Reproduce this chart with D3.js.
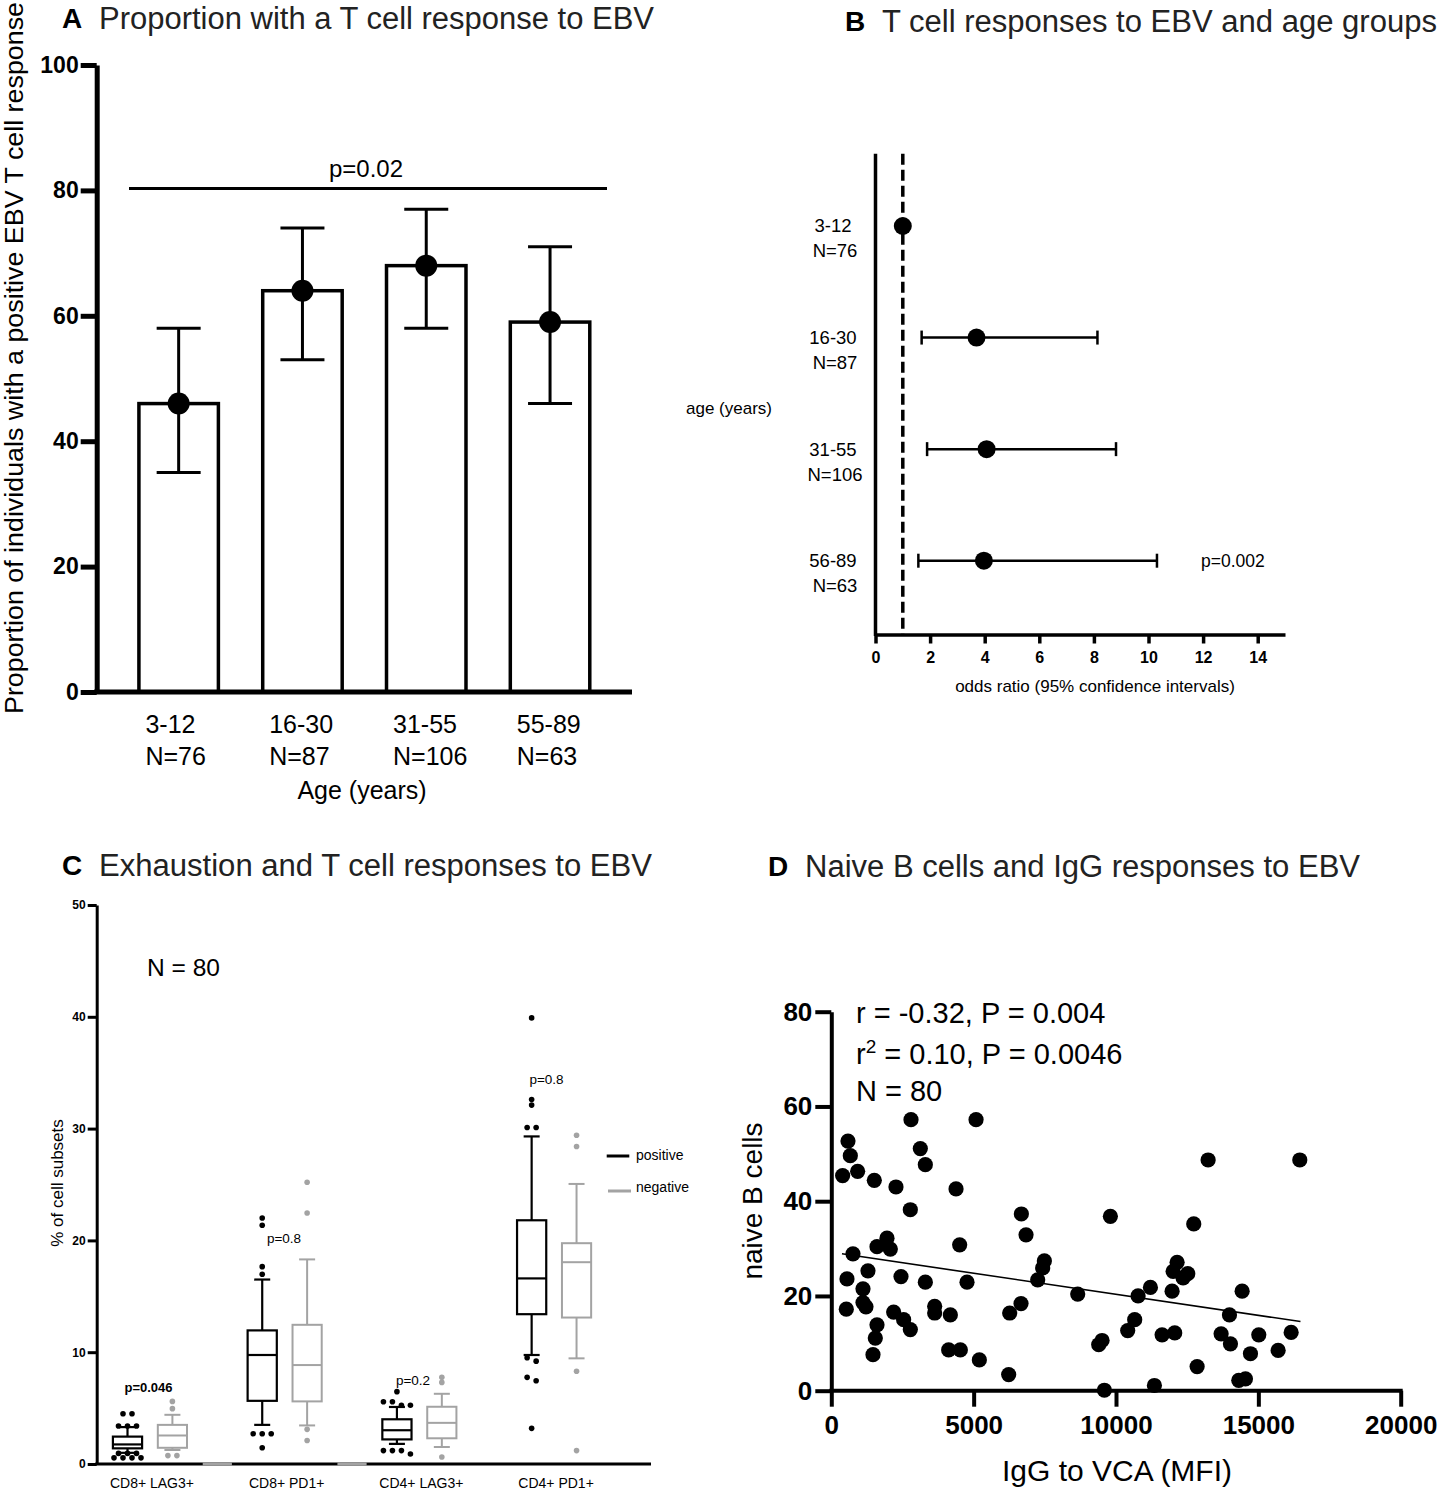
<!DOCTYPE html>
<html>
<head>
<meta charset="utf-8">
<script src="https://cdn.jsdelivr.net/npm/d3@7"></script>
<style>
  body { margin: 0; background: #fff; }
  text { font-family: "Liberation Sans", Arial, Helvetica, sans-serif; }
</style>
</head>
<body>
<div id="chart-area"></div>
<script>
// ---- Panel A data: proportion with a T cell response
const ageGroups = ["3-12", "16-30", "31-55", "55-89"]
const ageN = ["N=76", "N=87", "N=106", "N=63"]
const propValues = [46, 64, 68, 59]
const propLow = [35, 53, 58, 46]
const propHigh = [58, 74, 77, 71]
const propTicks = [0, 20, 40, 60, 80, 100]

// ---- Panel B data: odds ratios
const orGroups = ["3-12", "16-30", "31-55", "56-89"]
const orN = ["N=76", "N=87", "N=106", "N=63"]
const orValues = [1, 3.7, 4.07, 3.97]
const orLow = [null, 1.69, 1.89, 1.57]
const orHigh = [null, 8.13, 8.81, 10.31]
const orTicks = [0, 2, 4, 6, 8, 10, 12, 14]

// ---- Panel C data: box plots of exhaustion markers
const cellSubsets = ["CD8+ LAG3+", "CD8+ PD1+", "CD4+ LAG3+", "CD4+ PD1+"]
const subsetP = ["p=0.046", "p=0.8", "p=0.2", "p=0.8"]
const posLow = [1.0, 3.5, 1.8, 9.75]
const posQ1 = [1.4, 5.65, 2.2, 13.4]
const posMed = [1.75, 9.75, 3.02, 16.6]
const posQ3 = [2.45, 11.95, 4.0, 21.8]
const posHigh = [3.3, 16.5, 5.1, 29.3]
const posOutliers = [
  [4.5, 4.5, 3.4, 3.4, 3.4, 0.95, 0.95, 0.95, 0.55, 0.55, 0.55, 0.55],
  [22.0, 21.35, 17.65, 16.97, 2.7, 2.7, 2.7, 1.45],
  [6.47, 5.57, 5.57, 5.25, 5.25, 1.2, 1.2, 1.2, 0.9],
  [39.9, 32.6, 32.1, 30.1, 30.1, 9.5, 9.2, 7.75, 7.45, 3.19]
]
const negLow = [1.25, 3.45, 1.52, 9.45]
const negQ1 = [1.45, 5.6, 2.3, 13.1]
const negMed = [2.55, 8.85, 3.68, 18.05]
const negQ3 = [3.5, 12.45, 5.12, 19.75]
const negHigh = [4.4, 18.3, 6.28, 25.05]
const negOutliers = [
  [5.6, 4.95, 0.75, 0.75],
  [25.2, 22.45, 3.1, 2.1],
  [7.75, 7.3, 0.62],
  [29.4, 28.4, 8.3, 1.2]
]
const emptySlots = [2, 5]
const cellTicks = [0, 10, 20, 30, 40, 50]

// ---- Panel D data: IgG to VCA vs naive B cells
const iggVca = [398, 586, 668, 925, 1511, 2272, 2799, 3127, 3303, 2776, 5084, 4381, 6676, 6840,
  761, 1605, 1956, 2073, 4509, 7484, 7425, 7250, 551, 1288, 2448, 3303, 4767, 1113, 8655,
  527, 1113, 1218, 2190, 2541, 2776, 3631, 3631, 4181, 6266, 6664, 1605, 1546, 1464, 4122,
  4532, 5200, 6230,
  13236, 16456, 9803, 12731, 12146, 12006, 12520, 12357, 11970, 11209, 10776, 14430, 13985,
  10657, 10411, 9511, 9393, 11619, 12063, 13692, 14020, 15015, 16152, 14723, 15695, 12849,
  14312, 14547, 9592, 11349]
const naiveB = [45.4, 52.7, 49.6, 46.3, 44.4, 43.0, 57.2, 51.1, 47.7, 38.2, 57.2, 42.6, 37.3, 32.9,
  28.9, 30.4, 32.2, 29.9, 30.8, 27.4, 25.9, 23.4, 23.6, 25.3, 24.1, 22.9, 22.9, 21.5, 20.4,
  17.2, 18.6, 17.7, 16.6, 15.0, 12.9, 17.8, 16.4, 16.0, 16.4, 18.4, 13.9, 11.1, 7.6, 8.6,
  8.6, 6.5, 3.4,
  48.7, 48.7, 36.8, 35.2, 27.1, 25.2, 24.7, 23.8, 21.0, 21.8, 20.0, 21.0, 16.0,
  15.0, 12.7, 10.6, 9.7, 11.8, 12.2, 12.0, 9.9, 11.8, 12.3, 7.8, 8.5, 5.1,
  2.2, 2.5, 0.1, 1.1]
const fitX = [375, 16479]
const fitY = [28.9, 14.6]
const iggTicks = [0, 5000, 10000, 15000, 20000]
const naiveTicks = [0, 20, 40, 60, 80]

const GRAY = "#a3a3a3"

const svg = d3.select("#chart-area").append("svg")
  .attr("width", 1441)
  .attr("height", 1506)
  .attr("viewBox", [0, 0, 1441, 1506])
  .style("background", "#fff")

function txt(g, s, x, y, o = {}) {
  const t = g.append("text")
    .attr("x", x).attr("y", y).attr("dy", "0.35em")
    .attr("font-size", o.size || 16)
    .attr("font-weight", o.bold ? "bold" : "normal")
    .attr("text-anchor", o.anchor || "start")
    .attr("fill", o.fill || "#000")
    .text(s)
  if (o.len) t.attr("textLength", o.len).attr("lengthAdjust", "spacingAndGlyphs")
  if (o.rotate) t.attr("transform", `rotate(-90,${x},${y})`)
  return t
}

function styleAxis(g, w, fs) {
  g.attr("font-family", null)
  g.select(".domain").attr("stroke-width", w)
  g.selectAll(".tick line").attr("stroke-width", w)
  g.selectAll(".tick text").attr("font-size", fs).attr("font-weight", "bold").attr("fill", "#000")
}

function title(letter, s, x, y, len) {
  txt(svg, letter, x, y, { size: 28, bold: true })
  txt(svg, s, x + 37, y, { size: 31, len: len, fill: "#222" })
}

// ================= Panel A =================
title("A", "Proportion with a T cell response to EBV", 62, 18, 555)

const xA = d3.scaleBand().domain(ageGroups).range([96.7, 632]).paddingInner(0.358).paddingOuter(0.341)
const yA = d3.scaleLinear().domain([0, 100]).range([692, 65])

const gA = svg.append("g")
gA.selectAll(".barA").data(propValues).join("rect")
  .attr("class", "barA")
  .attr("x", (d, i) => xA(ageGroups[i]))
  .attr("y", d => yA(d))
  .attr("width", xA.bandwidth())
  .attr("height", d => yA(0) - yA(d))
  .attr("fill", "#fff").attr("stroke", "#000").attr("stroke-width", 3.5)

const cxA = i => xA(ageGroups[i]) + xA.bandwidth() / 2
gA.selectAll(".errA").data(propValues).join("line")
  .attr("class", "errA")
  .attr("x1", (d, i) => cxA(i)).attr("x2", (d, i) => cxA(i))
  .attr("y1", (d, i) => yA(propLow[i])).attr("y2", (d, i) => yA(propHigh[i]))
  .attr("stroke", "#000").attr("stroke-width", 3)
const caps = propLow.map((v, i) => ({ i, v })).concat(propHigh.map((v, i) => ({ i, v })))
gA.selectAll(".capA").data(caps).join("line")
  .attr("class", "capA")
  .attr("x1", d => cxA(d.i) - 22).attr("x2", d => cxA(d.i) + 22)
  .attr("y1", d => yA(d.v)).attr("y2", d => yA(d.v))
  .attr("stroke", "#000").attr("stroke-width", 3)
gA.selectAll(".dotA").data(propValues).join("circle")
  .attr("class", "dotA")
  .attr("cx", (d, i) => cxA(i)).attr("cy", d => yA(d)).attr("r", 11)

const axA = svg.append("g").attr("transform", "translate(96.7,0)")
  .call(d3.axisLeft(yA).tickValues(propTicks).tickSize(16).tickPadding(2).tickSizeOuter(0))
styleAxis(axA, 5, 23)
svg.append("line").attr("x1", 94.2).attr("x2", 632).attr("y1", yA(0)).attr("y2", yA(0))
  .attr("stroke", "#000").attr("stroke-width", 5)

// significance bar
svg.append("line").attr("x1", 129).attr("x2", 607).attr("y1", yA(80.3)).attr("y2", yA(80.3))
  .attr("stroke", "#000").attr("stroke-width", 3)
txt(svg, "p=0.02", 366, 169, { size: 24, anchor: "middle" })

ageGroups.forEach((g, i) => {
  txt(svg, g, xA(g) + 6.5, 724, { size: 25 })
  txt(svg, ageN[i], xA(g) + 6.5, 756, { size: 25 })
})
txt(svg, "Age (years)", 362, 790, { size: 25, anchor: "middle" })
txt(svg, "Proportion of individuals with a positive EBV  T cell response", 14, 358,
  { size: 25, anchor: "middle", rotate: true, len: 712 })

// ================= Panel B =================
title("B", "T cell responses to EBV and age groups", 845, 21, 555)

const xB = d3.scaleLinear().domain([0, 15]).range([875.5, 1285])
const yB = d3.scalePoint().domain(orGroups).range([226, 560.7])

const axB = svg.append("g").attr("transform", "translate(0,634.5)")
  .call(d3.axisBottom(xB).tickValues(orTicks).tickSize(9).tickPadding(8).tickSizeOuter(0))
styleAxis(axB, 3.5, 16)
svg.append("line").attr("x1", xB(0)).attr("x2", xB(0)).attr("y1", 153.7).attr("y2", 636)
  .attr("stroke", "#000").attr("stroke-width", 3.5)
svg.append("line").attr("x1", xB(1)).attr("x2", xB(1)).attr("y1", 153.7).attr("y2", 634.5)
  .attr("stroke", "#000").attr("stroke-width", 3.5).attr("stroke-dasharray", "11,5")

const ciB = orGroups.map((g, i) => ({ g, lo: orLow[i], hi: orHigh[i] })).filter(d => d.lo !== null)
svg.selectAll(".ciB").data(ciB).join("line")
  .attr("class", "ciB")
  .attr("x1", d => xB(d.lo)).attr("x2", d => xB(d.hi))
  .attr("y1", d => yB(d.g)).attr("y2", d => yB(d.g))
  .attr("stroke", "#000").attr("stroke-width", 2.5)
const capsB = ciB.flatMap(d => [{ g: d.g, v: d.lo }, { g: d.g, v: d.hi }])
svg.selectAll(".capB").data(capsB).join("line")
  .attr("class", "capB")
  .attr("x1", d => xB(d.v)).attr("x2", d => xB(d.v))
  .attr("y1", d => yB(d.g) - 7).attr("y2", d => yB(d.g) + 7)
  .attr("stroke", "#000").attr("stroke-width", 2.5)
svg.selectAll(".dotB").data(orValues).join("circle")
  .attr("class", "dotB")
  .attr("cx", d => xB(d)).attr("cy", (d, i) => yB(orGroups[i])).attr("r", 9)

orGroups.forEach((g, i) => {
  txt(svg, g, 833, yB(g), { size: 18.5, anchor: "middle" })
  txt(svg, orN[i], 835, yB(g) + 25, { size: 18.5, anchor: "middle" })
})
txt(svg, "age (years)", 686, 408, { size: 17 })
txt(svg, "p=0.002", 1201, yB(orGroups[3]), { size: 17.5 })
txt(svg, "odds ratio (95% confidence intervals)", 1095, 686, { size: 17, anchor: "middle" })

// ================= Panel C =================
title("C", "Exhaustion and T cell responses to EBV", 62, 865, 553)

const yC = d3.scaleLinear().domain([0, 50]).range([1464, 905])
const slotC = d3.scaleBand().domain(d3.range(11)).range([105.05, 599])
const boxW = slotC.bandwidth() * 0.65
const slotX = s => slotC(s) + slotC.bandwidth() / 2

const boxes = []
cellSubsets.forEach((c, i) => {
  boxes.push({ slot: i * 3, color: "#000", w: 2.2, lo: posLow[i], q1: posQ1[i], med: posMed[i], q3: posQ3[i], hi: posHigh[i], out: posOutliers[i] })
  boxes.push({ slot: i * 3 + 1, color: GRAY, w: 2, lo: negLow[i], q1: negQ1[i], med: negMed[i], q3: negQ3[i], hi: negHigh[i], out: negOutliers[i] })
})

// outliers with (nearly) equal values are spread side by side
function spread(vals) {
  const sorted = vals.slice().sort((a, b) => b - a)
  const res = []
  let cl = []
  const flush = () => { cl.forEach((v, k) => res.push({ v, k: k - (cl.length - 1) / 2 })); cl = [] }
  sorted.forEach(v => {
    if (cl.length && cl[cl.length - 1] - v > 0.35) flush()
    cl.push(v)
  })
  flush()
  return res
}

const axC = svg.append("g").attr("transform", "translate(96.7,0)")
  .call(d3.axisLeft(yC).tickValues(cellTicks).tickSize(9).tickPadding(2).tickSizeOuter(0))
styleAxis(axC, 3, 12)
svg.append("line").attr("x1", 95.2).attr("x2", 651).attr("y1", yC(0)).attr("y2", yC(0))
  .attr("stroke", "#000").attr("stroke-width", 3)
svg.selectAll(".emptyC").data(emptySlots).join("line")
  .attr("class", "emptyC")
  .attr("x1", d => slotX(d) - boxW / 2).attr("x2", d => slotX(d) + boxW / 2)
  .attr("y1", yC(0)).attr("y2", yC(0))
  .attr("stroke", GRAY).attr("stroke-width", 3)

const gC = svg.selectAll(".boxC").data(boxes).join("g").attr("class", "boxC")
gC.append("line")
  .attr("x1", d => slotX(d.slot)).attr("x2", d => slotX(d.slot))
  .attr("y1", d => yC(d.hi)).attr("y2", d => yC(d.q3))
  .attr("stroke", d => d.color).attr("stroke-width", d => d.w)
gC.append("line")
  .attr("x1", d => slotX(d.slot)).attr("x2", d => slotX(d.slot))
  .attr("y1", d => yC(d.q1)).attr("y2", d => yC(d.lo))
  .attr("stroke", d => d.color).attr("stroke-width", d => d.w)
gC.selectAll(".capC").data(d => [d.lo, d.hi].map(v => ({ v, d }))).join("line")
  .attr("class", "capC")
  .attr("x1", e => slotX(e.d.slot) - 8).attr("x2", e => slotX(e.d.slot) + 8)
  .attr("y1", e => yC(e.v)).attr("y2", e => yC(e.v))
  .attr("stroke", e => e.d.color).attr("stroke-width", e => e.d.w)
gC.append("rect")
  .attr("x", d => slotX(d.slot) - boxW / 2).attr("width", boxW)
  .attr("y", d => yC(d.q3)).attr("height", d => yC(d.q1) - yC(d.q3))
  .attr("fill", "none").attr("stroke", d => d.color).attr("stroke-width", d => d.w)
gC.append("line")
  .attr("x1", d => slotX(d.slot) - boxW / 2).attr("x2", d => slotX(d.slot) + boxW / 2)
  .attr("y1", d => yC(d.med)).attr("y2", d => yC(d.med))
  .attr("stroke", d => d.color).attr("stroke-width", d => d.w)
gC.selectAll(".outC").data(d => spread(d.out).map(o => ({ ...o, d }))).join("circle")
  .attr("class", "outC")
  .attr("cx", e => slotX(e.d.slot) + e.k * 9).attr("cy", e => yC(e.v)).attr("r", 2.8)
  .attr("fill", e => e.d.color)

cellSubsets.forEach((c, i) => {
  const mid = (slotX(i * 3) + slotX(i * 3 + 1)) / 2
  txt(svg, c, mid + 2, 1483, { size: 14, anchor: "middle" })
})
txt(svg, subsetP[0], 148.5, 1387, { size: 13, bold: true, anchor: "middle" })
txt(svg, subsetP[1], 284, 1238, { size: 13.5, anchor: "middle" })
txt(svg, subsetP[2], 413, 1380, { size: 13.5, anchor: "middle" })
txt(svg, subsetP[3], 546.5, 1079, { size: 13.5, anchor: "middle" })
txt(svg, "N = 80", 147, 968, { size: 24, len: 73 })
txt(svg, "% of cell subsets", 57, 1183, { size: 17, anchor: "middle", rotate: true })

// legend
svg.append("line").attr("x1", 606.7).attr("x2", 629.3).attr("y1", 1156).attr("y2", 1156)
  .attr("stroke", "#000").attr("stroke-width", 3)
txt(svg, "positive", 636, 1155, { size: 14 })
svg.append("line").attr("x1", 608).attr("x2", 631).attr("y1", 1191).attr("y2", 1191)
  .attr("stroke", GRAY).attr("stroke-width", 3)
txt(svg, "negative", 636, 1187, { size: 14 })

// ================= Panel D =================
title("D", "Naive B cells and IgG responses to EBV", 768, 866, 555)

const xD = d3.scaleLinear().domain([0, 20000]).range([831.3, 1400.7])
const yD = d3.scaleLinear().domain([0, 80]).range([1390.7, 1011.7])

svg.selectAll(".dotD").data(iggVca).join("circle")
  .attr("class", "dotD")
  .attr("cx", d => xD(d)).attr("cy", (d, i) => yD(naiveB[i])).attr("r", 7.6)

svg.append("path")
  .datum(fitX.map((x, i) => [x, fitY[i]]))
  .attr("d", d3.line().x(d => xD(d[0])).y(d => yD(d[1])))
  .attr("stroke", "#000").attr("stroke-width", 1.6).attr("fill", "none")

const axDy = svg.append("g").attr("transform", `translate(${xD(0)},0)`)
  .call(d3.axisLeft(yD).tickValues(naiveTicks).tickSize(16).tickPadding(3).tickSizeOuter(0))
styleAxis(axDy, 4, 26)
const axDx = svg.append("g").attr("transform", `translate(0,${yD(0)})`)
  .call(d3.axisBottom(xD).tickValues(iggTicks).tickFormat(d3.format("d"))
    .tickSize(16).tickPadding(9).tickSizeOuter(0))
styleAxis(axDx, 4, 26)
axDx.select(".domain").attr("d", `M${xD(0) - 2},0H${xD(20000) + 2}`)

txt(svg, "r = -0.32, P = 0.004", 856, 1013, { size: 29 })
const r2 = svg.append("text").attr("x", 856).attr("y", 1054).attr("dy", "0.35em")
  .attr("font-size", 29).attr("fill", "#000")
r2.append("tspan").text("r")
r2.append("tspan").attr("dy", -11).attr("font-size", 19).text("2")
r2.append("tspan").attr("dy", 11).text(" = 0.10, P = 0.0046")
txt(svg, "N = 80", 856, 1091, { size: 29 })

txt(svg, "IgG to VCA (MFI)", 1117, 1470, { size: 30, anchor: "middle" })
txt(svg, "naive B cells", 752, 1201, { size: 28, anchor: "middle", rotate: true })
</script>
</body>
</html>
